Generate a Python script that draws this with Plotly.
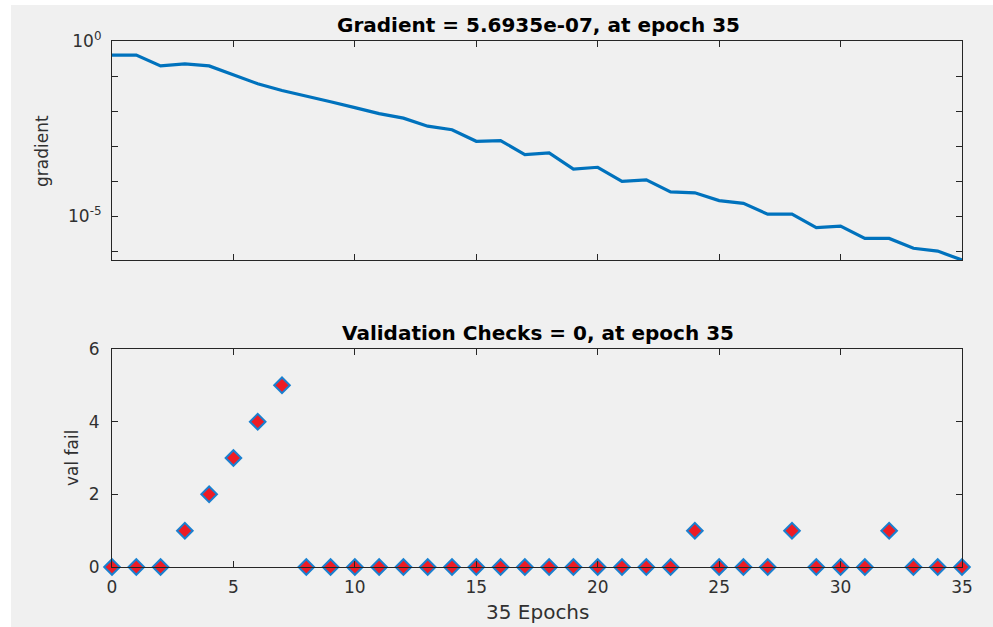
import plotly.graph_objects as go

# ---- data ----
epochs = list(range(0, 36))
gradient = [0.398, 0.398, 0.195, 0.224, 0.195, 0.107, 0.0603, 0.0389, 0.0275, 0.0186,
            0.0126, 0.00851, 0.00631, 0.00372, 0.00295, 0.00138, 0.00145, 5.75e-4, 6.46e-4, 2.24e-4,
            2.51e-4, 1.0e-4, 1.10e-4, 5.01e-5, 4.68e-5, 2.82e-5, 2.34e-5, 1.15e-5, 1.15e-5, 4.79e-6,
            5.25e-6, 2.34e-6, 2.34e-6, 1.23e-6, 1.02e-6, 5.6935e-7]
val_fail = [0, 0, 0, 1, 2, 3, 4, 5, 0, 0, 0, 0, 0, 0, 0, 0, 0, 0, 0, 0,
            0, 0, 0, 0, 1, 0, 0, 0, 1, 0, 0, 0, 1, 0, 0, 0]
x_ticks = [0, 5, 10, 15, 20, 25, 30, 35]
grad_tickvals = [1, 1e-5]
grad_ticktext = ["10<sup>0</sup>", "10<sup>-5</sup>"]
val_ticks = [0, 2, 4, 6]
title_top = "Gradient = 5.6935e-07, at epoch 35"
title_bot = "Validation Checks = 0, at epoch 35"

W, H = 993, 627
def px(x): return x / W
def py(y): return 1 - y / H

FONT = "DejaVu Sans, Verdana, sans-serif"
AX = "#262626"
TXT = "#303030"

fig = go.Figure()
fig.add_trace(go.Scatter(x=epochs, y=gradient, mode="lines",
                         line=dict(color="#0072BD", width=3.2),
                         xaxis="x", yaxis="y", showlegend=False))
fig.add_trace(go.Scatter(x=epochs, y=val_fail, mode="markers",
                         marker=dict(symbol="diamond", size=12, color="#ee1c25",
                                     line=dict(color="#1a80d0", width=2)),
                         cliponaxis=False,
                         xaxis="x2", yaxis="y2", showlegend=False))

common = dict(showline=True, linecolor=AX, linewidth=1.2, mirror="ticks",
              ticks="inside", ticklen=6, tickcolor=AX, tickwidth=1.2,
              showgrid=False, zeroline=False,
              tickfont=dict(family=FONT, size=17, color=TXT))

fig.update_layout(
    width=W, height=H,
    margin=dict(l=0, r=0, t=0, b=0, autoexpand=False),
    paper_bgcolor="white", plot_bgcolor="white",
    xaxis=dict(domain=[px(112), px(962)], range=[0, 35], tickvals=x_ticks,
               showticklabels=False, anchor="y", **common),
    yaxis=dict(domain=[py(260), py(41)], type="log",
               range=[-6.2446, 0], tickvals=grad_tickvals, ticktext=grad_ticktext,
               ticklabelstandoff=6,
               minor=dict(ticks="inside", ticklen=6, tickcolor=AX, tickwidth=1.2,
                          dtick=1, showgrid=False),
               anchor="x", **common),
    xaxis2=dict(domain=[px(112), px(962)], range=[0, 35], tickvals=x_ticks,
                ticklabelstandoff=4, anchor="y2", **common),
    yaxis2=dict(domain=[py(567), py(349)], range=[0, 6], tickvals=val_ticks,
                ticklabelstandoff=8, anchor="x2", **common),
    shapes=[dict(type="rect", xref="paper", yref="paper",
                 x0=px(11), x1=1.0, y0=0.0, y1=py(5),
                 fillcolor="#f0f0f0", line=dict(width=0), layer="below")],
)

ann = dict(xref="paper", yref="paper", showarrow=False, xanchor="center", yanchor="middle")
fig.add_annotation(text="<b>" + title_top + "</b>", x=px(538), y=py(25),
                   font=dict(family=FONT, size=20, color="black"), **ann)
fig.add_annotation(text="<b>" + title_bot + "</b>", x=px(538), y=py(333),
                   font=dict(family=FONT, size=20, color="black"), **ann)
fig.add_annotation(text="gradient", x=px(42), y=py(151), textangle=-90,
                   font=dict(family=FONT, size=17, color=TXT), **ann)
fig.add_annotation(text="val fail", x=px(72), y=py(458), textangle=-90,
                   font=dict(family=FONT, size=17, color=TXT), **ann)
fig.add_annotation(text="35 Epochs", x=px(537), y=py(612),
                   font=dict(family=FONT, size=20, color=TXT), **ann)

fig.write_html("out.html")
